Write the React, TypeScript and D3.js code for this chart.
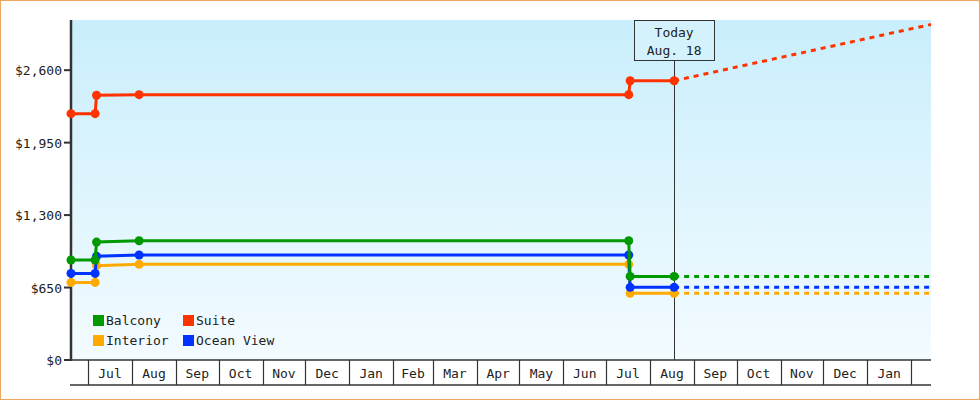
import React, { useEffect, useRef } from 'react';
import * as d3 from 'd3';

// x-axis window and "today" marker
const domainStart = '2012-06-19';
const domainEnd = '2014-02-15';
const todayDate = '2013-08-18';
const todayLabel = ['Today', 'Aug. 18'];

// dates at which prices were recorded
const pointDates = ['2012-06-19', '2012-07-06', '2012-07-07', '2012-08-06', '2013-07-17', '2013-07-18', '2013-08-18'];

// legend order (column-major: Balcony, Interior | Suite, Ocean View)
const seriesNames = ['Balcony', 'Interior', 'Suite', 'Ocean View'];
const seriesColors = ['#009900', '#ffaa00', '#ff3300', '#0033ff'];

const balconyPrices = [897, 897, 1058, 1070, 1070, 750, 750];
const interiorPrices = [696, 696, 846, 858, 858, 598, 598];
const suitePrices = [2210, 2210, 2375, 2380, 2380, 2505, 2505];
const oceanViewPrices = [777, 777, 930, 942, 942, 652, 652];

// projected price at the end of the window
const projectedEnd = [750, 598, 3010, 652];

const yTicks = [0, 650, 1300, 1950, 2600];
const yMax = 3050;

const App: React.FC = () => {
  const svgRef = useRef<SVGSVGElement>(null);

  useEffect(() => {
    if (!svgRef.current) return;
    const W = 980;
    const H = 400;
    const margin = { top: 20, right: 49, bottom: 40, left: 71 };
    const parse = d3.timeParse('%Y-%m-%d');
    const font = '"DejaVu Sans Mono", monospace';
    const ink = '#333';

    const svg = d3.select(svgRef.current);
    svg.selectAll('*').remove();

    const start = parse(domainStart) as Date;
    const end = parse(domainEnd) as Date;
    const today = parse(todayDate) as Date;

    const x = d3.scaleTime().domain([start, end]).range([margin.left, W - margin.right]);
    const y = d3.scaleLinear().domain([0, yMax]).range([H - margin.bottom, margin.top]);
    const x0 = x.range()[0];
    const x1 = x.range()[1];
    const yBottom = y(0);

    // frame
    svg.append('rect')
      .attr('x', 0.5).attr('y', 0.5)
      .attr('width', W - 1).attr('height', H - 1)
      .attr('fill', '#fff')
      .attr('stroke', '#eaa764');

    // plot background gradient
    const grad = svg.append('defs').append('linearGradient')
      .attr('id', 'bg').attr('x1', 0).attr('y1', 0).attr('x2', 0).attr('y2', 1);
    grad.append('stop').attr('offset', '0%').attr('stop-color', '#c9eefc');
    grad.append('stop').attr('offset', '100%').attr('stop-color', '#f3fbff');

    svg.append('rect')
      .attr('x', x0).attr('y', margin.top)
      .attr('width', x1 - x0).attr('height', yBottom - margin.top)
      .attr('fill', 'url(#bg)');

    // month cells under the axis
    const cellBottom = yBottom + 25;
    const bounds = d3.timeMonth.range(d3.timeMonth.ceil(start), end);
    const xa = svg.append('g');
    xa.selectAll('line.sep')
      .data(bounds)
      .enter()
      .append('line')
      .attr('x1', d => Math.round(x(d)) + 0.5)
      .attr('x2', d => Math.round(x(d)) + 0.5)
      .attr('y1', yBottom)
      .attr('y2', cellBottom)
      .attr('stroke', ink)
      .attr('stroke-width', 1.2);

    const fullMonths = bounds.slice(0, -1);
    xa.selectAll('text')
      .data(fullMonths)
      .enter()
      .append('text')
      .attr('x', d => (x(d) + x(d3.timeMonth.offset(d, 1))) / 2)
      .attr('y', yBottom + 18)
      .attr('text-anchor', 'middle')
      .style('font-family', font)
      .style('font-size', '13px')
      .attr('fill', '#222')
      .text(d => d3.timeFormat('%b')(d));

    xa.append('line')
      .attr('x1', x0 - 1).attr('x2', x1)
      .attr('y1', cellBottom).attr('y2', cellBottom)
      .attr('stroke', ink).attr('stroke-width', 1.5);
    xa.append('line')
      .attr('x1', x0).attr('x2', x1)
      .attr('y1', yBottom).attr('y2', yBottom)
      .attr('stroke', ink).attr('stroke-width', 1.5);

    // y axis
    const ya = svg.append('g');
    ya.append('line')
      .attr('x1', x0).attr('x2', x0)
      .attr('y1', margin.top).attr('y2', yBottom + 1)
      .attr('stroke', ink).attr('stroke-width', 2.5);
    ya.selectAll('line.tick')
      .data(yTicks)
      .enter()
      .append('line')
      .attr('x1', x0 - 7).attr('x2', x0)
      .attr('y1', d => y(d)).attr('y2', d => y(d))
      .attr('stroke', ink).attr('stroke-width', 2);
    ya.selectAll('text')
      .data(yTicks)
      .enter()
      .append('text')
      .attr('x', x0 - 9)
      .attr('y', d => y(d) + 5)
      .attr('text-anchor', 'end')
      .style('font-family', font)
      .style('font-size', '13px')
      .attr('fill', '#222')
      .text(d => '$' + d3.format(',')(d));

    // today marker
    const tx = x(today);
    svg.append('line')
      .attr('x1', Math.round(tx) + 0.5).attr('x2', Math.round(tx) + 0.5)
      .attr('y1', 60).attr('y2', yBottom)
      .attr('stroke', ink).attr('stroke-width', 1);
    svg.append('rect')
      .attr('x', Math.round(tx) - 40 + 0.5).attr('y', margin.top + 0.5)
      .attr('width', 80).attr('height', 40)
      .attr('fill', '#d3f2fc')
      .attr('stroke', ink);
    svg.selectAll('text.today')
      .data(todayLabel)
      .enter()
      .append('text')
      .attr('x', tx)
      .attr('y', (_, i) => 37 + i * 18)
      .attr('text-anchor', 'middle')
      .style('font-family', font)
      .style('font-size', '13px')
      .attr('fill', '#222')
      .text(d => d);

    // series
    const values = [balconyPrices, interiorPrices, suitePrices, oceanViewPrices];
    const dates = pointDates.map(d => parse(d) as Date);
    const line = d3.line<[Date, number]>().x(d => x(d[0])).y(d => y(d[1]));
    const drawOrder = [1, 3, 0, 2];

    drawOrder.forEach(i => {
      const pts: [Date, number][] = dates.map((d, j) => [d, values[i][j]]);
      const last = pts[pts.length - 1];
      svg.append('path')
        .datum([last, [end, projectedEnd[i]]] as [Date, number][])
        .attr('d', line)
        .attr('fill', 'none')
        .attr('stroke', seriesColors[i])
        .attr('stroke-width', 3)
        .attr('stroke-dasharray', '5,5');
    });

    drawOrder.forEach(i => {
      const pts: [Date, number][] = dates.map((d, j) => [d, values[i][j]]);
      svg.append('path')
        .datum(pts)
        .attr('d', line)
        .attr('fill', 'none')
        .attr('stroke', seriesColors[i])
        .attr('stroke-width', 3);
      svg.selectAll(null)
        .data(pts)
        .enter()
        .append('circle')
        .attr('cx', d => x(d[0]))
        .attr('cy', d => y(d[1]))
        .attr('r', 4.5)
        .attr('fill', seriesColors[i]);
    });

    // legend
    const legend = svg.append('g').attr('transform', 'translate(93,315)');
    const items = legend.selectAll('g')
      .data(seriesNames)
      .enter()
      .append('g')
      .attr('transform', (_, i) => `translate(${Math.floor(i / 2) * 90},${(i % 2) * 20})`);
    items.append('rect')
      .attr('width', 11).attr('height', 11)
      .attr('fill', (_, i) => seriesColors[i]);
    items.append('text')
      .attr('x', 13).attr('y', 10)
      .style('font-family', font)
      .style('font-size', '13px')
      .attr('fill', '#222')
      .text(d => d);
  }, []);

  return (
    <svg
      ref={svgRef}
      width={980}
      height={400}
      style={{ position: 'absolute', left: 0, top: 0 }}
    />
  );
};

export default App;
